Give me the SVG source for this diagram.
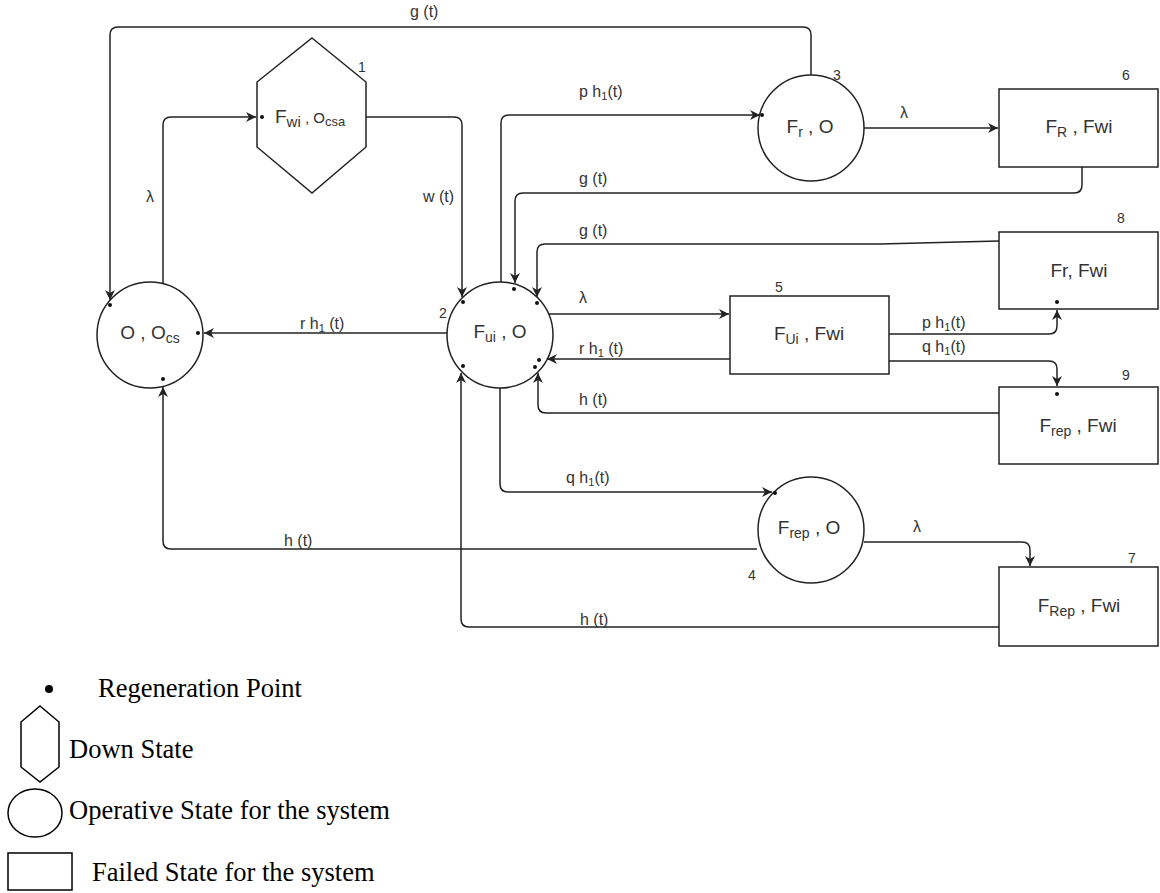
<svg xmlns="http://www.w3.org/2000/svg" width="1160" height="893" viewBox="0 0 1160 893">
<style>
.nd{fill:#fff;stroke:#222;stroke-width:1.5}
.ln{fill:none;stroke:#222;stroke-width:1.5}
.nl{font-family:"Liberation Sans",Arial,sans-serif;font-size:19px;fill:#333}
.sb{font-size:14px}
.el{font-family:"Liberation Sans",Arial,sans-serif;font-size:16px;fill:#333}
.es{font-size:11px}
.num{font-family:"Liberation Sans",Arial,sans-serif;font-size:14px;fill:#333}
.dot{fill:#111}
.lg{font-family:"Liberation Serif","Times New Roman",serif;font-size:26.5px;fill:#000}
</style>
<defs>
<marker id="ah" markerWidth="12" markerHeight="10" refX="10" refY="5" orient="auto" markerUnits="userSpaceOnUse"><path d="M0,0 L10,5 L0,10 L3,5 z" fill="#222"/></marker>
</defs>
<rect width="1160" height="893" fill="#fff"/>

<g id="node1">
<polygon class="nd" points="312,38 366,82 366,147 312,193 257,147 257,82"/>
<text class="nl" x="275" y="123">F<tspan font-size="15px" dy="4">wi</tspan><tspan font-size="15px" dy="-4"> , O</tspan><tspan font-size="13px" dy="3">csa</tspan></text>
<text class="num" x="358" y="72">1</text>
<circle class="dot" cx="262" cy="117" r="2"/>
</g>

<g id="node0">
<circle class="nd" cx="150" cy="335" r="53"/>
<text class="nl" x="150" y="339" text-anchor="middle">O , O<tspan class="sb" dy="4">cs</tspan></text>
<circle class="dot" cx="110" cy="305" r="2"/>
<circle class="dot" cx="198" cy="333" r="2"/>
<circle class="dot" cx="163" cy="379" r="2"/>
</g>

<g id="node2">
<circle class="nd" cx="500" cy="335" r="53"/>
<text class="nl" x="500" y="338" text-anchor="middle">F<tspan class="sb" dy="4">ui</tspan><tspan dy="-4"> , O</tspan></text>
<text class="num" x="439" y="318">2</text>
<circle class="dot" cx="463" cy="302" r="2"/>
<circle class="dot" cx="514" cy="289" r="2"/>
<circle class="dot" cx="537" cy="303" r="2"/>
<circle class="dot" cx="539" cy="360" r="2"/>
<circle class="dot" cx="463" cy="366" r="2"/>
<circle class="dot" cx="535" cy="367" r="2"/>
</g>

<g id="node3">
<circle class="nd" cx="811" cy="128" r="53"/>
<text class="nl" x="810" y="133" text-anchor="middle">F<tspan class="sb" dy="4">r</tspan><tspan dy="-4"> , O</tspan></text>
<text class="num" x="833" y="80">3</text>
<circle class="dot" cx="762" cy="115" r="2"/>
</g>

<g id="node4">
<circle class="nd" cx="811" cy="530" r="53"/>
<text class="nl" x="809" y="534" text-anchor="middle">F<tspan class="sb" dy="4">rep</tspan><tspan dy="-4"> , O</tspan></text>
<text class="num" x="748" y="580">4</text>
<circle class="dot" cx="775" cy="493" r="2"/>
</g>

<g id="node5">
<rect class="nd" x="730" y="296" width="159" height="78"/>
<text class="nl" x="809" y="340" text-anchor="middle">F<tspan class="sb" dy="4">Ui</tspan><tspan dy="-4"> , Fwi</tspan></text>
<text class="num" x="775" y="292">5</text>
</g>

<g id="node6">
<rect class="nd" x="999" y="89" width="159" height="78"/>
<text class="nl" x="1079" y="133" text-anchor="middle">F<tspan class="sb" dy="4">R</tspan><tspan dy="-4"> , Fwi</tspan></text>
<text class="num" x="1122" y="80">6</text>
</g>

<g id="node8">
<rect class="nd" x="999" y="232" width="159" height="77"/>
<text class="nl" x="1079" y="277" text-anchor="middle">Fr, Fwi</text>
<text class="num" x="1117" y="223">8</text>
<circle class="dot" cx="1057" cy="302" r="2"/>
</g>

<g id="node9">
<rect class="nd" x="999" y="387" width="159" height="77"/>
<text class="nl" x="1078" y="432" text-anchor="middle">F<tspan class="sb" dy="4">rep</tspan><tspan dy="-4"> , Fwi</tspan></text>
<text class="num" x="1122" y="380">9</text>
<circle class="dot" cx="1057" cy="394" r="2"/>
</g>

<g id="node7">
<rect class="nd" x="999" y="567" width="159" height="79"/>
<text class="nl" x="1079" y="612" text-anchor="middle">F<tspan class="sb" dy="4">Rep</tspan><tspan dy="-4"> , Fwi</tspan></text>
<text class="num" x="1128" y="563">7</text>
</g>

<g id="connectors">
<path class="ln" marker-end="url(#ah)" d="M811,75 V35 Q811,27 803,27 H118 Q110,27 110,35 V300"/>
<path class="ln" marker-end="url(#ah)" d="M163,283 V125 Q163,117 171,117 H256"/>
<path class="ln" marker-end="url(#ah)" d="M366,117 H454 Q462,117 462,125 V297"/>
<path class="ln" marker-end="url(#ah)" d="M501,282 V123 Q501,115 509,115 H760"/>
<path class="ln" marker-end="url(#ah)" d="M1082,167 V185 Q1082,193 1074,193 H523 Q515,193 515,201 V283"/>
<path class="ln" marker-end="url(#ah)" d="M999,241 L880,244 H545 Q537,244 537,252 V297"/>
<path class="ln" marker-end="url(#ah)" d="M549,314 H729"/>
<path class="ln" marker-end="url(#ah)" d="M730,359 H547"/>
<path class="ln" marker-end="url(#ah)" d="M999,413 H546 Q538,413 538,405 V373"/>
<path class="ln" marker-end="url(#ah)" d="M889,334 H1049 Q1057,334 1057,326 V310"/>
<path class="ln" marker-end="url(#ah)" d="M889,361 H1049 Q1057,361 1057,369 V386"/>
<path class="ln" marker-end="url(#ah)" d="M447,333 H204"/>
<path class="ln" marker-end="url(#ah)" d="M757,549 H171 Q163,549 163,541 V387"/>
<path class="ln" marker-end="url(#ah)" d="M500,388 V484 Q500,492 508,492 H772"/>
<path class="ln" marker-end="url(#ah)" d="M864,542 H1022 Q1030,542 1030,550 V566"/>
<path class="ln" marker-end="url(#ah)" d="M999,627 H469 Q461,627 461,619 V373"/>
<path class="ln" marker-end="url(#ah)" d="M864,128 H998"/>
<text class="el" x="410" y="17">g (t)</text>
<text class="el" x="579" y="97">p h<tspan class="es" dy="3">1</tspan><tspan dy="-3">(t)</tspan></text>
<text class="el" x="579" y="184">g (t)</text>
<text class="el" x="579" y="236">g (t)</text>
<text class="el" x="146" y="202">λ</text>
<text class="el" x="423" y="202">w (t)</text>
<text class="el" x="579" y="303">λ</text>
<text class="el" x="579" y="354">r h<tspan class="es" dy="3">1</tspan><tspan dy="-3"> (t)</tspan></text>
<text class="el" x="579" y="405">h (t)</text>
<text class="el" x="300" y="329">r h<tspan class="es" dy="3">1</tspan><tspan dy="-3"> (t)</tspan></text>
<text class="el" x="900" y="118">λ</text>
<text class="el" x="922" y="328">p h<tspan class="es" dy="3">1</tspan><tspan dy="-3">(t)</tspan></text>
<text class="el" x="922" y="352">q h<tspan class="es" dy="3">1</tspan><tspan dy="-3">(t)</tspan></text>
<text class="el" x="566" y="483">q h<tspan class="es" dy="3">1</tspan><tspan dy="-3">(t)</tspan></text>
<text class="el" x="284" y="546">h (t)</text>
<text class="el" x="913" y="532">λ</text>
<text class="el" x="580" y="625">h (t)</text>
</g>

<g id="legend">
<circle cx="49" cy="689" r="4" fill="#000"/>
<text class="lg" x="98" y="697">Regeneration Point</text>
<polygon points="40,706 59,722 59,767 40,782 21,767 21,722" fill="none" stroke="#000" stroke-width="1.5"/>
<text class="lg" x="69" y="758">Down State</text>
<ellipse cx="35" cy="813" rx="27" ry="24" fill="none" stroke="#000" stroke-width="1.5"/>
<text class="lg" x="69" y="819">Operative State for the system</text>
<rect x="8" y="853" width="64" height="37" fill="none" stroke="#000" stroke-width="1.5"/>
<text class="lg" x="92" y="881">Failed State for the system</text>
</g>
</svg>
